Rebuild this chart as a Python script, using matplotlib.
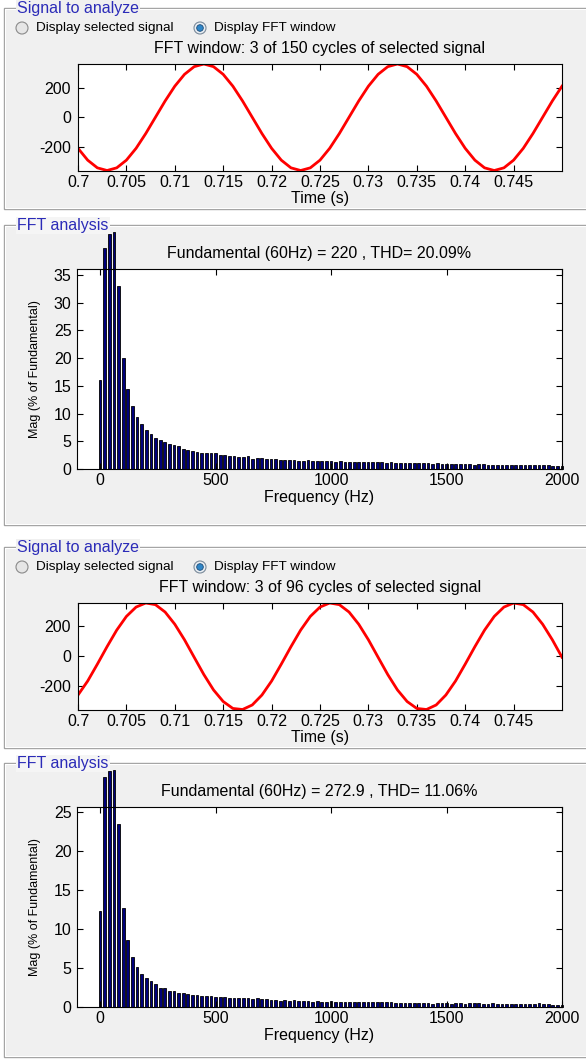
import numpy as np
import matplotlib
matplotlib.use('Agg')
import matplotlib.pyplot as plt
from matplotlib.patches import Rectangle, Circle

plt.rcParams['font.family'] = ['Liberation Sans', 'DejaVu Sans']
plt.rcParams['axes.unicode_minus'] = False

W, H = 586, 1060

time_s = np.round(np.arange(700, 751) / 1000.0, 3)
signal_1 = [-210, -290, -342, -360, -342, -290, -210, -110, 0, 110, 210, 290, 342, 360,
            342, 290, 210, 110, 0, -110, -210, -290, -342, -360,
            -342, -290, -210, -110, 0, 110, 210, 290, 342, 360,
            342, 290, 210, 110, 0, -110, -210, -290, -342, -360,
            -342, -290, -210, -110, 0, 110, 210]
signal_2 = [-257, -164, -52, 64, 174, 265, 327, 354, 343, 294, 213, 110, -6, -121, -223, -300, -346, -353, -323,
            -257, -164, -52, 64, 174, 265, 327, 354, 343, 294, 213, 110, -6, -121, -223, -300, -346, -353, -323,
            -257, -164, -52, 64, 174, 265, 327, 354, 343, 294, 213, 110, -6]

# FFT bins every 20 Hz, magnitudes in % of fundamental
freq_hz = np.arange(0, 2001, 20)
mag_1 = [16.1, 39.9, 42.5, 42.8, 33.0, 20.0, 14.4, 11.3, 9.4, 8.1,
         7.1, 6.3, 5.6, 5.2, 4.9, 4.5, 4.3, 4.1, 3.7, 3.4,
         3.3, 3.1, 2.9, 2.8, 2.8, 2.8, 2.5, 2.6, 2.3, 2.3,
         2.1, 2.1, 2.3, 1.8, 1.9, 1.9, 1.8, 1.8, 1.8, 1.7,
         1.6, 1.6, 1.6, 1.5, 1.5, 1.6, 1.5, 1.5, 1.4, 1.4, 1.4,
         1.3, 1.4, 1.3, 1.3, 1.3, 1.2, 1.3, 1.3, 1.2, 1.3,
         1.2, 1.1, 1.2, 1.1, 1.1, 1.1, 1.1, 1.0, 1.1, 1.0,
         1.0, 0.9, 1.0, 0.9, 0.9, 0.9, 0.9, 0.9, 0.9, 0.9,
         0.8, 0.9, 0.9, 0.8, 0.8, 0.8, 0.7, 0.8, 0.7, 0.8,
         0.7, 0.7, 0.8, 0.8, 0.7, 0.7, 0.7, 0.6, 0.6, 0.6]
mag_2 = [12.4, 29.5, 30.3, 30.4, 23.5, 12.7, 8.6, 6.4, 5.2, 4.3,
         3.7, 3.3, 3.0, 2.5, 2.5, 2.1, 2.0, 1.85, 1.75, 1.7,
         1.6, 1.5, 1.4, 1.4, 1.4, 1.3, 1.3, 1.3, 1.2, 1.2, 1.1,
         1.1, 1.1, 1.0, 1.1, 1.0, 1.0, 0.9, 0.9, 0.8, 0.9,
         0.8, 0.9, 0.8, 0.8, 0.8, 0.7, 0.8, 0.7, 0.7, 0.8,
         0.7, 0.7, 0.6, 0.7, 0.6, 0.6, 0.6, 0.6, 0.7, 0.6,
         0.7, 0.6, 0.6, 0.5, 0.5, 0.5, 0.5, 0.5, 0.5, 0.5,
         0.5, 0.4, 0.5, 0.5, 0.5, 0.4, 0.5, 0.5, 0.4, 0.5,
         0.5, 0.5, 0.4, 0.4, 0.5, 0.4, 0.4, 0.4, 0.4, 0.4,
         0.4, 0.4, 0.4, 0.4, 0.5, 0.4, 0.4, 0.3, 0.3, 0.2]

win_titles = ['FFT window: 3 of 150 cycles of selected signal',
              'FFT window: 3 of 96 cycles of selected signal']
fft_titles = ['Fundamental (60Hz) = 220 , THD= 20.09%',
              'Fundamental (60Hz) = 272.9 , THD= 11.06%']
fft_yticks = [[0, 5, 10, 15, 20, 25, 30, 35], [0, 5, 10, 15, 20, 25]]
fft_ytop = [36.1, 25.7]
time_ticks = [0.7, 0.705, 0.71, 0.715, 0.72, 0.725, 0.73, 0.735, 0.74, 0.745]

BLUE_TXT = '#2b2bb8'
PANEL = '#f0f0f0'
FS = 11.5

fig = plt.figure(figsize=(W / 100, H / 100), dpi=100, facecolor='white')
bg = fig.add_axes([0, 0, 1, 1], zorder=0)
bg.set_xlim(0, W)
bg.set_ylim(H, 0)
bg.axis('off')


def add_ax(l, t, r, b):
    return fig.add_axes([l / W, 1 - b / H, (r - l) / W, (b - t) / H], zorder=2)


def panel(top, bottom, label, label_bg):
    bg.add_patch(Rectangle((4, top), 620, bottom - top, facecolor=PANEL,
                           edgecolor='#a0a0a0', lw=1.0))
    bg.add_patch(Rectangle((5, top + 1), 620, bottom - top - 2, facecolor='none',
                           edgecolor='white', lw=0.8))
    bg.text(17, top + 1, label, color=BLUE_TXT, fontsize=FS, ha='left', va='center',
            bbox=dict(facecolor=label_bg, edgecolor='none', pad=1.0))


def radios(y):
    bg.add_patch(Circle((22, y), 6, facecolor='#e6e6e6', edgecolor='#8a8a8a', lw=0.8))
    bg.text(36, y, 'Display selected signal', fontsize=9.7, ha='left', va='center')
    bg.add_patch(Circle((200, y), 6, facecolor='#e9eef3', edgecolor='#7a8a9a', lw=0.8))
    bg.add_patch(Circle((200, y), 3.3, facecolor='#2f86c8', edgecolor='#1c4c78', lw=0.6))
    bg.text(214, y, 'Display FFT window', fontsize=9.7, ha='left', va='center')


def style(ax, xpad, ypad):
    ax.tick_params(direction='in', length=4, width=0.8, top=True, right=True,
                   labelsize=FS, colors='black')
    ax.tick_params(axis='x', pad=xpad)
    ax.tick_params(axis='y', pad=ypad)
    for s in ax.spines.values():
        s.set_linewidth(0.8)
        s.set_color('black')


def signal_block(y0, sig, title):
    # y0 = panel top
    panel(y0, y0 + 201, 'Signal to analyze', PANEL)
    radios(y0 + 20.5)
    ax = add_ax(78, y0 + 56.5, 562, y0 + 163)
    ax.plot(time_s, sig, color='red', lw=2.0)
    ax.set_xlim(0.7, 0.75)
    ax.set_ylim(min(sig), max(sig))
    ax.set_xticks(time_ticks)
    ax.set_xticklabels([f'{v:g}' for v in time_ticks])
    ax.set_yticks([-200, 0, 200])
    style(ax, 3, 5)
    bg.text(320, y0 + 41, title, fontsize=FS, ha='center', va='center')
    bg.text(320, y0 + 191, 'Time (s)', fontsize=FS, ha='center', va='center')


def fft_block(y0, mags, title, yt, ytop, bottom):
    panel(y0, bottom, 'FFT analysis', '#f5f5f5')
    ax = add_ax(77, y0 + 44.5, 562, y0 + 244.5)
    ax.bar(freq_hz, mags, width=12, color='#00007a', edgecolor='black', lw=0.6,
           clip_on=False)
    ax.set_xlim(-100, 2000)
    ax.set_ylim(0, ytop)
    ax.set_xticks([0, 500, 1000, 1500, 2000])
    ax.set_yticks(yt)
    style(ax, 3, 4)
    bg.text(319, y0 + 29, title, fontsize=FS, ha='center', va='center')
    bg.text(319, y0 + 273, 'Frequency (Hz)', fontsize=FS, ha='center', va='center')
    bg.text(35, y0 + 144.5, 'Mag (% of Fundamental)', fontsize=9, rotation=90,
            ha='center', va='center')


signal_block(7.5, signal_1, win_titles[0])
fft_block(224.5, mag_1, fft_titles[0], fft_yticks[0], fft_ytop[0], 525)
signal_block(546.5, signal_2, win_titles[1])
fft_block(762.5, mag_2, fft_titles[1], fft_yticks[1], fft_ytop[1], 1057)

fig.savefig('out.png', dpi=100, facecolor='white')
